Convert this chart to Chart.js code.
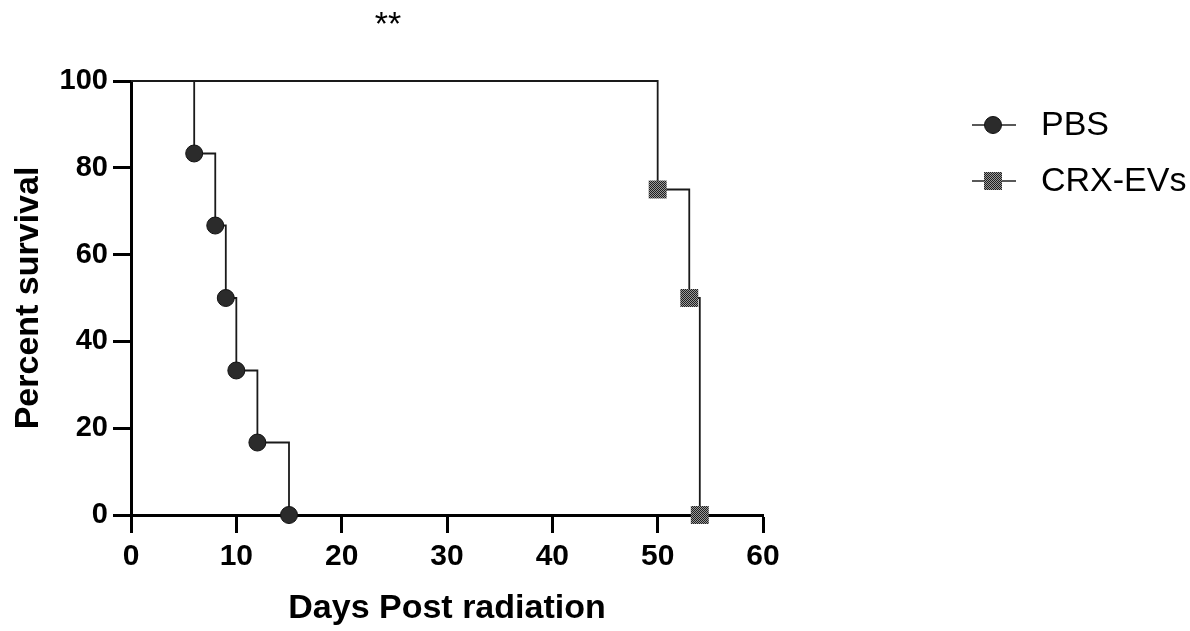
<!DOCTYPE html>
<html>
<head>
<meta charset="utf-8">
<script src="https://cdn.jsdelivr.net/npm/chart.js@4.4.1/dist/chart.umd.min.js"></script>
<style>
  html, body { margin: 0; padding: 0; background: #fff; }
  #wrap { width: 1190px; height: 631px; position: relative; }
</style>
</head>
<body>
<div id="wrap"><canvas id="c"></canvas></div>
<script>
// ---- data ----
const seriesNames = ['PBS', 'CRX-EVs'];
const pbsDays = [0, 6, 8, 9, 10, 12, 15];
const pbsSurvival = [100, 83.3, 66.7, 50, 33.3, 16.7, 0];
const crxDays = [0, 50, 53, 54];
const crxSurvival = [100, 75, 50, 0];
const xTicks = [0, 10, 20, 30, 40, 50, 60];
const yTicks = [0, 20, 40, 60, 80, 100];
const significance = '**';
const xTitle = 'Days Post radiation';
const yTitle = 'Percent survival';

const FONT = "'Liberation Sans', Arial, Helvetica, sans-serif";

// checker pattern for square markers
function checker(a, b) {
  const c = document.createElement('canvas');
  c.width = 2; c.height = 2;
  const g = c.getContext('2d');
  g.fillStyle = b; g.fillRect(0, 0, 2, 2);
  g.fillStyle = a; g.fillRect(0, 0, 1, 1); g.fillRect(1, 1, 1, 1);
  return g.createPattern(c, 'repeat');
}
const sqFill = checker('#1e1e1e', '#9a9a9a');

const toPts = (xs, ys) => xs.map((x, i) => ({ x: x, y: ys[i] }));

const legendAndMarks = {
  id: 'legendAndMarks',
  afterDraw(chart) {
    const ctx = chart.ctx;
    ctx.save();
    // significance mark
    ctx.fillStyle = '#000';
    ctx.font = '34px ' + FONT;
    ctx.textAlign = 'center';
    ctx.textBaseline = 'middle';
    ctx.fillText(significance, 388, 26);
    // legend
    const rows = [125, 181];
    chart.data.datasets.forEach((ds, i) => {
      const y = rows[i];
      ctx.strokeStyle = '#222';
      ctx.lineWidth = 1.6;
      ctx.beginPath(); ctx.moveTo(972, y); ctx.lineTo(1016, y); ctx.stroke();
      ctx.fillStyle = ds.pointBackgroundColor;
      ctx.strokeStyle = ds.pointBorderColor;
      ctx.lineWidth = ds.pointBorderWidth || 0.01;
      Chart.helpers.drawPoint(ctx, { pointStyle: ds.pointStyle, radius: ds.legendRadius, borderWidth: ds.pointBorderWidth }, 993, y);
      ctx.fillStyle = '#000';
      ctx.font = '34px ' + FONT;
      ctx.textAlign = 'left';
      ctx.textBaseline = 'middle';
      ctx.fillText(ds.label, 1041, y + 1);
    });
    ctx.restore();
  }
};

new Chart(document.getElementById('c'), {
  type: 'line',
  data: {
    datasets: [
      {
        label: seriesNames[0],
        data: toPts(pbsDays, pbsSurvival),
        stepped: 'before',
        borderColor: '#1a1a1a',
        borderWidth: 1.8,
        pointStyle: 'circle',
        pointRadius: pbsDays.map((d, i) => i === 0 ? 0 : 8.5),
        legendRadius: 8.5,
        pointBackgroundColor: '#2b2b2b',
        pointBorderColor: '#111',
        pointBorderWidth: 1,
        clip: false
      },
      {
        label: seriesNames[1],
        data: toPts(crxDays, crxSurvival),
        stepped: 'before',
        borderColor: '#1a1a1a',
        borderWidth: 1.8,
        pointStyle: 'rect',
        pointRadius: crxDays.map((d, i) => i === 0 ? 0 : 12.7),
        legendRadius: 12.7,
        pointBackgroundColor: sqFill,
        pointBorderColor: 'rgba(0,0,0,0)',
        pointBorderWidth: 0,
        clip: false
      }
    ]
  },
  options: {
    responsive: true,
    maintainAspectRatio: false,
    animation: false,
    layout: { padding: { top: 81, right: 427, left: 0, bottom: 0 } },
    plugins: {
      legend: { display: false },
      tooltip: { enabled: false }
    },
    scales: {
      x: {
        type: 'linear',
        min: xTicks[0],
        max: xTicks[xTicks.length - 1],
        afterBuildTicks: s => { s.ticks = xTicks.map(v => ({ value: v })); },
        afterFit: s => { s.height = 116; },
        ticks: { color: '#000', font: { family: FONT, size: 30, weight: 'bold' }, padding: 6 },
        grid: { drawOnChartArea: false, drawTicks: true, tickLength: 18, tickWidth: 3, tickColor: '#000' },
        border: { display: true, color: '#000', width: 3 },
        title: { display: true, text: xTitle, color: '#000', font: { family: FONT, size: 34, weight: 'bold' }, padding: { top: 0, bottom: 2 } }
      },
      y: {
        type: 'linear',
        min: yTicks[0],
        max: yTicks[yTicks.length - 1],
        afterBuildTicks: s => { s.ticks = yTicks.map(v => ({ value: v })); },
        afterFit: s => { s.width = 131; },
        ticks: { color: '#000', font: { family: FONT, size: 29, weight: 'bold' }, padding: 5 },
        grid: { drawOnChartArea: false, drawTicks: true, tickLength: 18, tickWidth: 3, tickColor: '#000' },
        border: { display: true, color: '#000', width: 3 },
        title: { display: true, text: yTitle, color: '#000', font: { family: FONT, size: 34, weight: 'bold' }, padding: { top: 8, bottom: 0 } }
      }
    }
  },
  plugins: [legendAndMarks]
});
</script>
</body>
</html>
